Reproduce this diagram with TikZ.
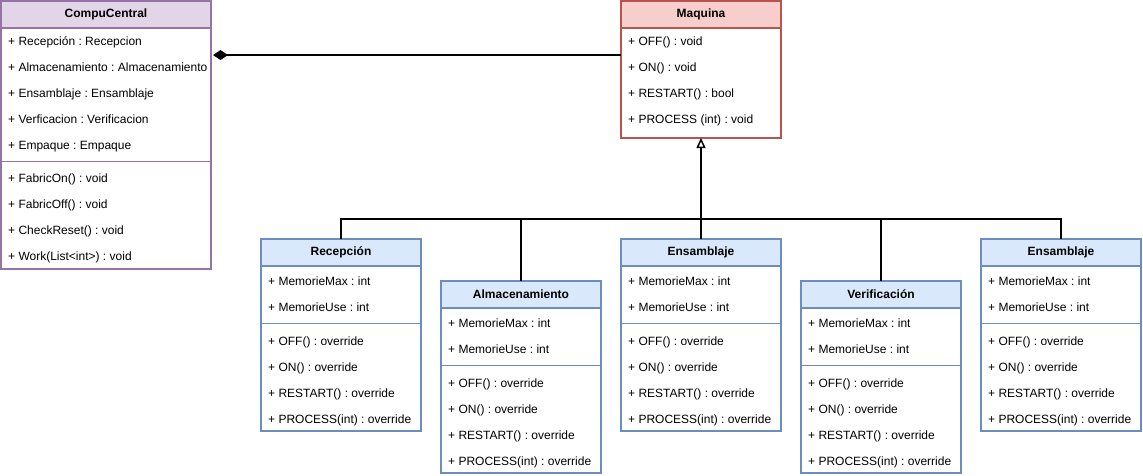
\documentclass[tikz,border=0pt]{standalone}
\usepackage{fontspec}
\setmainfont{Liberation Sans}
\usetikzlibrary{arrows.meta,calc}
\definecolor{compuLine}{HTML}{9673A6}
\definecolor{compuFill}{HTML}{E1D5E7}
\definecolor{maqLine}{HTML}{B85450}
\definecolor{maqFill}{HTML}{F8CECC}
\definecolor{childLine}{HTML}{6C8EBF}
\definecolor{childFill}{HTML}{DAE8FC}
\newcommand{\rowSize}[0]{\fontsize{12}{14}\selectfont\frenchspacing}

\begin{document}
\begin{tikzpicture}[x=1pt, y=-1pt, font=\rowSize]
  \tikzset{
    classbox/.style={draw, line width=2.2pt, fill=white, anchor=north west, inner sep=0pt, outer sep=0pt},
    headbox/.style={draw, line width=2.2pt, anchor=north, inner sep=0pt, outer sep=0pt,
      minimum height=27pt, font=\rowSize\bfseries},
    rowtext/.style={anchor=base west, inner sep=0pt},
    sepline/.style={line width=0.8pt},
    conn/.style={line width=2pt}
  }
  \useasboundingbox (0,0) rectangle (1143,475);

  % CompuCentral
  \node[classbox, draw=compuLine, minimum width=210pt, minimum height=268pt] (compu) at (1,1) {};
  \node[headbox, draw=compuLine, fill=compuFill, minimum width=210pt] (compu-head) at (compu.north) {CompuCentral};
  \foreach \t [count=\i] in {{+ Recepción : Recepcion}, {+ Almacenamiento : Almacenamiento},
      {+ Ensamblaje : Ensamblaje}, {+ Verficacion : Verificacion}, {+ Empaque : Empaque}}
    \node[rowtext] (compu-a\i) at ($(compu.north west)+(7,18+26*\i)$) {\t};
  \draw[sepline, compuLine] ($(compu.north west)+(0,160)$) -- ($(compu.north east)+(0,160)$);
  \foreach \t [count=\i] in {{+ FabricOn() : void}, {+ FabricOff() : void},
      {+ CheckReset() : void}, {+ Work(List<int>) : void}}
    \node[rowtext] (compu-m\i) at ($(compu.north west)+(7,155+26*\i)$) {\t};

  % Maquina
  \node[classbox, draw=maqLine, minimum width=160pt, minimum height=137pt] (maquina) at (621,1) {};
  \node[headbox, draw=maqLine, fill=maqFill, minimum width=160pt] (maquina-head) at (maquina.north) {Maquina};
  \foreach \t [count=\i] in {{+ OFF() : void}, {+ ON() : void},
      {+ RESTART() : bool}, {+ PROCESS (int) : void}}
    \node[rowtext] (maquina-m\i) at ($(maquina.north west)+(7,18+26*\i)$) {\t};

  % subclasses
  \foreach \n/\x/\y/\title in {recep/261/239/Recepción, alm/441/281/Almacenamiento,
      ens/621/239/Ensamblaje, verif/801/281/Verificación, ensb/981/239/Ensamblaje} {
    \node[classbox, draw=childLine, minimum width=160pt, minimum height=192pt] (\n) at (\x,\y) {};
    \node[headbox, draw=childLine, fill=childFill, minimum width=160pt] (\n-head) at (\n.north) {\title};
    \foreach \t [count=\i] in {{+ MemorieMax : int}, {+ MemorieUse : int}}
      \node[rowtext] (\n-a\i) at ($(\n.north west)+(7,20+26*\i)$) {\t};
    \draw[sepline, childLine] ($(\n.north west)+(0,84)$) -- ($(\n.north east)+(0,84)$);
    \foreach \t [count=\i] in {{+ OFF() : override}, {+ ON() : override},
        {+ RESTART() : override}, {+ PROCESS(int) : override}}
      \node[rowtext] (\n-m\i) at ($(\n.north west)+(7,80+26*\i)$) {\t};
  }

  % connectors
  \coordinate (comp-end) at ($(maquina.north west)+(0,54)$);
  \draw[conn, {Diamond[length=15pt, width=10pt]}-] ($(compu.east |- comp-end)+(2,0)$) -- (comp-end);
  \coordinate (bus) at ($(ens.north)+(0,-20)$);
  \draw[conn, -{Triangle[open, length=10pt, width=9pt, line width=1.5pt]}] (ens.north) -- (maquina.south);
  \draw[conn] (recep.north) |- (bus) -| (ensb.north);
  \draw[conn] (alm.north) -- (alm.north |- bus);
  \draw[conn] (verif.north) -- (verif.north |- bus);
\end{tikzpicture}
\end{document}
